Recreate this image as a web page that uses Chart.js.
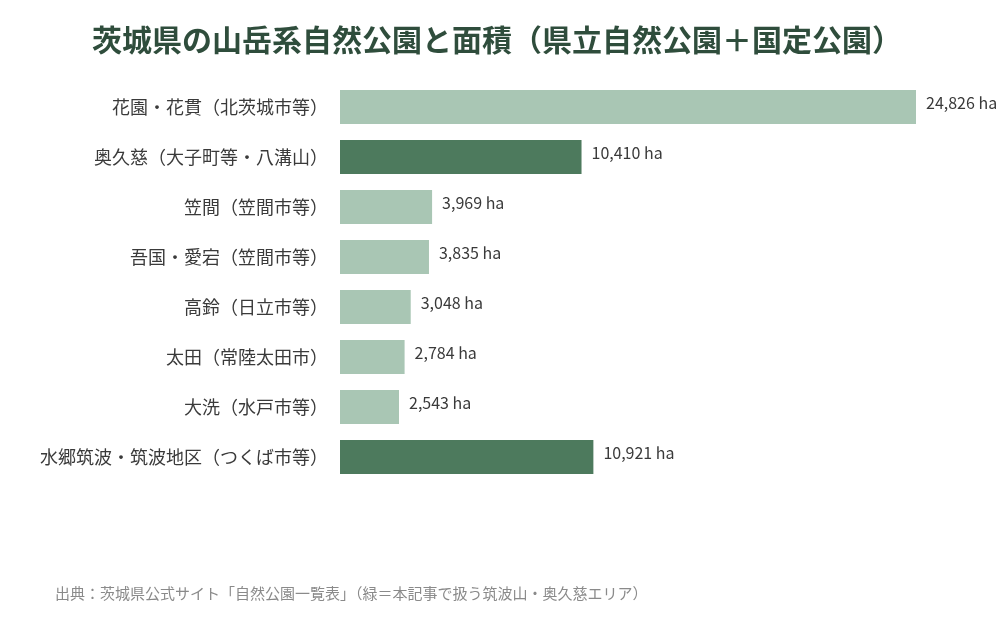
<!DOCTYPE html>
<html lang="ja">
<head>
<meta charset="utf-8">
<script src="https://cdn.jsdelivr.net/npm/chart.js@4.4.1/dist/chart.umd.min.js"></script>
<style>
  html, body { margin: 0; padding: 0; background: #fff; }
  #wrap { width: 1000px; height: 620px; position: relative; }
</style>
</head>
<body>
<div id="wrap"><canvas id="parkChart"></canvas></div>
<script>
// 茨城県の山岳系自然公園と面積 (ha)
const parks = [
  '花園・花貫（北茨城市等）',
  '奥久慈（大子町等・八溝山）',
  '笠間（笠間市等）',
  '吾国・愛宕（笠間市等）',
  '高鈴（日立市等）',
  '太田（常陸太田市）',
  '大洗（水戸市等）',
  '水郷筑波・筑波地区（つくば市等）'
];
const areas = [24826, 10410, 3969, 3835, 3048, 2784, 2543, 10921];
// highlighted = covered in the article (Tsukuba / Okukuji)
const highlighted = [false, true, false, false, false, false, false, true];
const sourceNote = '出典：茨城県公式サイト「自然公園一覧表」（緑＝本記事で扱う筑波山・奥久慈エリア）';

const FONT = '"Noto Sans CJK JP", "Noto Sans", sans-serif';
const LIGHT = '#a9c6b4';
const DARK = '#4d7a5d';

// draws "12,345 ha" to the right of each bar
const valueLabels = {
  id: 'valueLabels',
  afterDatasetsDraw(chart) {
    const { ctx } = chart;
    const meta = chart.getDatasetMeta(0);
    ctx.save();
    ctx.font = '16px ' + FONT;
    ctx.fillStyle = '#3a3a3a';
    ctx.textAlign = 'left';
    ctx.textBaseline = 'middle';
    meta.data.forEach((bar, i) => {
      ctx.fillText(areas[i].toLocaleString('en-US') + ' ha', bar.x + 10, bar.y - 4);
    });
    ctx.restore();
  }
};

// source line under the chart
const footNote = {
  id: 'footNote',
  afterDraw(chart) {
    const { ctx } = chart;
    ctx.save();
    ctx.font = '15px ' + FONT;
    ctx.fillStyle = '#8a8a8a';
    ctx.textAlign = 'left';
    ctx.textBaseline = 'middle';
    ctx.fillText(sourceNote, 55, chart.height - 27);
    ctx.restore();
  }
};

const ctx = document.getElementById('parkChart').getContext('2d');
new Chart(ctx, {
  type: 'bar',
  data: {
    labels: parks,
    datasets: [{
      data: areas,
      backgroundColor: highlighted.map(h => h ? DARK : LIGHT),
      borderWidth: 0,
      barPercentage: 0.85,
      categoryPercentage: 0.8
    }]
  },
  options: {
    indexAxis: 'y',
    responsive: true,
    maintainAspectRatio: false,
    animation: false,
    layout: { padding: { left: 20, right: 26, top: 0, bottom: 138 } },
    plugins: {
      legend: { display: false },
      tooltip: { enabled: false },
      title: {
        display: true,
        text: '茨城県の山岳系自然公園と面積（県立自然公園＋国定公園）',
        color: '#2f4d3c',
        font: { family: FONT, size: 30, weight: 'bold', lineHeight: 1.2 },
        padding: { top: 22, bottom: 24 }
      }
    },
    scales: {
      x: { display: false, min: 0, max: 27326 },
      y: {
        grid: { display: false },
        border: { display: false },
        ticks: { color: '#3a3a3a', padding: 4, font: { family: FONT, size: 18 } },
        afterFit: s => { s.width = 320; }
      }
    }
  },
  plugins: [valueLabels, footNote]
});
</script>
</body>
</html>
